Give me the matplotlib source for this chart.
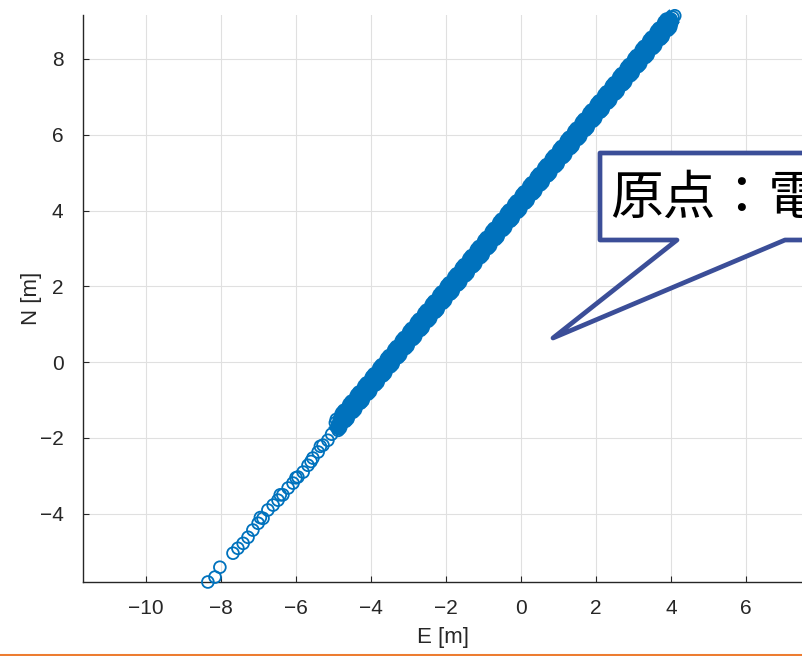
#!/usr/bin/env python3
import matplotlib
matplotlib.use('Agg')
import matplotlib.pyplot as plt
from matplotlib.patches import Polygon
from matplotlib.lines import Line2D

# sparse circles at the lower-left end
e_sparse = [-8.35, -8.16, -8.03, -7.68, -7.55, -7.41, -7.28, -7.15, -7.01, -6.95,
            -6.88, -6.75, -6.61, -6.48, -6.42, -6.35, -6.21, -6.08, -6.00, -5.95,
            -5.81, -5.68, -5.60, -5.55, -5.41, -5.35, -5.28, -5.15, -5.05]
n_sparse = [-5.80, -5.67, -5.41, -5.04, -4.91, -4.78, -4.62, -4.43, -4.25, -4.10,
            -4.12, -3.90, -3.77, -3.64, -3.50, -3.50, -3.32, -3.19, -3.05, -3.03,
            -2.90, -2.72, -2.62, -2.53, -2.37, -2.22, -2.19, -2.06, -1.90]

# dense part of the track, first pass of points
e_dense_a = [
    -4.95, -4.90, -4.85, -4.80, -4.75, -4.70, -4.65, -4.60, -4.55, -4.50, -4.45, -4.40,
    -4.35, -4.30, -4.25, -4.20, -4.15, -4.10, -4.05, -4.00, -3.95, -3.90, -3.85, -3.80,
    -3.75, -3.70, -3.65, -3.60, -3.55, -3.50, -3.45, -3.40, -3.35, -3.30, -3.25, -3.20,
    -3.15, -3.10, -3.05, -3.00, -2.95, -2.90, -2.85, -2.80, -2.75, -2.70, -2.65, -2.60,
    -2.55, -2.50, -2.45, -2.40, -2.35, -2.30, -2.25, -2.20, -2.15, -2.10, -2.05, -2.00,
    -1.95, -1.90, -1.85, -1.80, -1.75, -1.70, -1.65, -1.60, -1.55, -1.50, -1.45, -1.40,
    -1.35, -1.30, -1.25, -1.20, -1.15, -1.10, -1.05, -1.00, -0.95, -0.90, -0.85, -0.80,
    -0.75, -0.70, -0.65, -0.60, -0.55, -0.50, -0.45, -0.40, -0.35, -0.30, -0.25, -0.20,
    -0.15, -0.10, -0.05, 0.00, 0.05, 0.10, 0.15, 0.20, 0.25, 0.30, 0.35, 0.40,
    0.45, 0.50, 0.55, 0.60, 0.65, 0.70, 0.75, 0.80, 0.85, 0.90, 0.95, 1.00,
    1.05, 1.10, 1.15, 1.20, 1.25, 1.30, 1.35, 1.40, 1.45, 1.50, 1.55, 1.60,
    1.65, 1.70, 1.75, 1.80, 1.85, 1.90, 1.95, 2.00, 2.05, 2.10, 2.15, 2.20,
    2.25, 2.30, 2.35, 2.40, 2.45, 2.50, 2.55, 2.60, 2.65, 2.70, 2.75, 2.80,
    2.85, 2.90, 2.95, 3.00, 3.05, 3.10, 3.15, 3.20, 3.25, 3.30, 3.35, 3.40,
    3.45, 3.50, 3.55, 3.60, 3.65, 3.70, 3.75, 3.80, 3.85, 3.90, 3.95, 4.00,
    4.05, 4.10]
n_dense_a = [
    -1.60, -1.68, -1.72, -1.51, -1.36, -1.44, -1.48, -1.27, -1.12, -1.20, -1.24, -1.03,
    -0.88, -0.96, -1.00, -0.79, -0.64, -0.72, -0.76, -0.55, -0.40, -0.48, -0.52, -0.31,
    -0.16, -0.24, -0.28, -0.07, 0.08, 0.00, -0.04, 0.17, 0.32, 0.24, 0.20, 0.41,
    0.56, 0.48, 0.44, 0.65, 0.80, 0.72, 0.68, 0.89, 1.04, 0.96, 0.92, 1.13,
    1.28, 1.20, 1.16, 1.37, 1.52, 1.44, 1.40, 1.61, 1.76, 1.68, 1.64, 1.85,
    2.00, 1.92, 1.88, 2.09, 2.24, 2.16, 2.12, 2.33, 2.48, 2.40, 2.36, 2.57,
    2.72, 2.64, 2.60, 2.81, 2.96, 2.88, 2.84, 3.05, 3.20, 3.12, 3.08, 3.29,
    3.44, 3.36, 3.32, 3.53, 3.68, 3.60, 3.56, 3.77, 3.92, 3.84, 3.80, 4.01,
    4.16, 4.08, 4.04, 4.25, 4.40, 4.32, 4.28, 4.49, 4.64, 4.56, 4.52, 4.73,
    4.88, 4.80, 4.76, 4.97, 5.12, 5.04, 5.00, 5.21, 5.36, 5.28, 5.24, 5.45,
    5.60, 5.52, 5.48, 5.69, 5.84, 5.76, 5.72, 5.93, 6.08, 6.00, 5.96, 6.17,
    6.32, 6.24, 6.20, 6.41, 6.56, 6.48, 6.44, 6.65, 6.80, 6.72, 6.68, 6.89,
    7.04, 6.96, 6.92, 7.13, 7.28, 7.20, 7.16, 7.37, 7.52, 7.44, 7.40, 7.61,
    7.76, 7.68, 7.64, 7.85, 8.00, 7.92, 7.88, 8.09, 8.24, 8.16, 8.12, 8.33,
    8.48, 8.40, 8.36, 8.57, 8.72, 8.64, 8.60, 8.81, 8.96, 8.88, 8.84, 9.05,
    9.10, 9.14]

# dense part, second pass (between the first ones, wider spread)
e_dense_b = [
    -4.925, -4.875, -4.825, -4.775, -4.725, -4.675, -4.625, -4.575,
    -4.525, -4.475, -4.425, -4.375, -4.325, -4.275, -4.225, -4.175,
    -4.125, -4.075, -4.025, -3.975, -3.925, -3.875, -3.825, -3.775,
    -3.725, -3.675, -3.625, -3.575, -3.525, -3.475, -3.425, -3.375,
    -3.325, -3.275, -3.225, -3.175, -3.125, -3.075, -3.025, -2.975,
    -2.925, -2.875, -2.825, -2.775, -2.725, -2.675, -2.625, -2.575,
    -2.525, -2.475, -2.425, -2.375, -2.325, -2.275, -2.225, -2.175,
    -2.125, -2.075, -2.025, -1.975, -1.925, -1.875, -1.825, -1.775,
    -1.725, -1.675, -1.625, -1.575, -1.525, -1.475, -1.425, -1.375,
    -1.325, -1.275, -1.225, -1.175, -1.125, -1.075, -1.025, -0.975,
    -0.925, -0.875, -0.825, -0.775, -0.725, -0.675, -0.625, -0.575,
    -0.525, -0.475, -0.425, -0.375, -0.325, -0.275, -0.225, -0.175,
    -0.125, -0.075, -0.025, 0.025, 0.075, 0.125, 0.175, 0.225,
    0.275, 0.325, 0.375, 0.425, 0.475, 0.525, 0.575, 0.625,
    0.675, 0.725, 0.775, 0.825, 0.875, 0.925, 0.975, 1.025,
    1.075, 1.125, 1.175, 1.225, 1.275, 1.325, 1.375, 1.425,
    1.475, 1.525, 1.575, 1.625, 1.675, 1.725, 1.775, 1.825,
    1.875, 1.925, 1.975, 2.025, 2.075, 2.125, 2.175, 2.225,
    2.275, 2.325, 2.375, 2.425, 2.475, 2.525, 2.575, 2.625,
    2.675, 2.725, 2.775, 2.825, 2.875, 2.925, 2.975, 3.025,
    3.075, 3.125, 3.175, 3.225, 3.275, 3.325, 3.375, 3.425,
    3.475, 3.525, 3.575, 3.625, 3.675, 3.725, 3.775, 3.825,
    3.875, 3.925, 3.975, 4.025]
n_dense_b = [
    -1.51, -1.80, -1.51, -1.58, -1.27, -1.56, -1.27, -1.34,
    -1.03, -1.32, -1.03, -1.10, -0.79, -1.08, -0.79, -0.86,
    -0.55, -0.84, -0.55, -0.62, -0.31, -0.60, -0.31, -0.38,
    -0.07, -0.36, -0.07, -0.14, 0.17, -0.12, 0.17, 0.10,
    0.41, 0.12, 0.41, 0.34, 0.65, 0.36, 0.65, 0.58,
    0.89, 0.60, 0.89, 0.82, 1.13, 0.84, 1.13, 1.06,
    1.37, 1.08, 1.37, 1.30, 1.61, 1.32, 1.61, 1.54,
    1.85, 1.56, 1.85, 1.78, 2.09, 1.80, 2.09, 2.02,
    2.33, 2.04, 2.33, 2.26, 2.57, 2.28, 2.57, 2.50,
    2.81, 2.52, 2.81, 2.74, 3.05, 2.76, 3.05, 2.98,
    3.29, 3.00, 3.29, 3.22, 3.53, 3.24, 3.53, 3.46,
    3.77, 3.48, 3.77, 3.70, 4.01, 3.72, 4.01, 3.94,
    4.25, 3.96, 4.25, 4.18, 4.49, 4.20, 4.49, 4.42,
    4.73, 4.44, 4.73, 4.66, 4.97, 4.68, 4.97, 4.90,
    5.21, 4.92, 5.21, 5.14, 5.45, 5.16, 5.45, 5.38,
    5.69, 5.40, 5.69, 5.62, 5.93, 5.64, 5.93, 5.86,
    6.17, 5.88, 6.17, 6.10, 6.41, 6.12, 6.41, 6.34,
    6.65, 6.36, 6.65, 6.58, 6.89, 6.60, 6.89, 6.82,
    7.13, 6.84, 7.13, 7.06, 7.37, 7.08, 7.37, 7.30,
    7.61, 7.32, 7.61, 7.54, 7.85, 7.56, 7.85, 7.78,
    8.09, 7.80, 8.09, 8.02, 8.33, 8.04, 8.33, 8.26,
    8.57, 8.28, 8.57, 8.50, 8.81, 8.52, 8.81, 8.74,
    9.05, 8.76, 9.05, 8.98]

xticks = [-10, -8, -6, -4, -2, 0, 2, 4, 6]
yticks = [-4, -2, 0, 2, 4, 6, 8]
callout_text = '原点：電波源'

plt.rcParams['font.family'] = ['Liberation Sans Narrow', 'Liberation Sans', 'DejaVu Sans']
plt.rcParams['axes.unicode_minus'] = True

W, H = 802, 656
fig = plt.figure(figsize=(W / 100, H / 100), dpi=100)

# axes box in pixels: left 83, right ~803, top 15, bottom 582
ax = fig.add_axes([83 / W, (H - 582) / H, (803 - 83) / W, (582 - 15) / H])
ax.set_xlim(-11.68, 7.52)
ax.set_ylim(-5.80, 9.16)

blue = '#0072BD'
# the dense stretch is so overlapped that it reads as a solid band
ax.plot(e_dense_a, n_dense_a, color=blue, linewidth=12, solid_joinstyle='round',
        solid_capstyle='butt', clip_on=False, zorder=2)
e_all = e_sparse + e_dense_a + e_dense_b
n_all = n_sparse + n_dense_a + n_dense_b
ax.scatter(e_all, n_all, s=72, facecolors='none', edgecolors=blue,
           linewidths=1.3, clip_on=False, zorder=3)

ax.set_xticks(xticks)
ax.set_yticks(yticks)
ax.grid(True, color='#e0e0e0', linewidth=0.8)
ax.set_axisbelow(True)
for s in ['top', 'right']:
    ax.spines[s].set_visible(False)
for s in ['left', 'bottom']:
    ax.spines[s].set_color('#262626')
    ax.spines[s].set_linewidth(1.0)
ax.tick_params(direction='in', length=4, width=0.8, colors='#262626', labelsize=15)
ax.tick_params(axis='x', pad=12)
ax.tick_params(axis='y', pad=14)
ax.set_xlabel('E [m]', fontsize=16, color='#262626', labelpad=7)
ax.set_ylabel('N [m]', fontsize=16, color='#262626', labelpad=-2)

# speech-bubble callout (pixel coords -> figure fraction)
pts_px = [(600, 153), (840, 153), (840, 240), (785, 240), (553, 338),
          (677, 240), (600, 240)]
pts = [(x / W, 1 - y / H) for x, y in pts_px]
bubble = Polygon(pts, closed=True, transform=fig.transFigure, facecolor='white',
                 edgecolor='#3B4E98', linewidth=3.4, joinstyle='round', zorder=10)
fig.add_artist(bubble)
fig.text(610 / W, 1 - 198 / H, callout_text, fontsize=38, color='black',
         family=['Noto Sans CJK JP', 'DejaVu Sans'], va='center', ha='left', zorder=11)

# orange rule at the very bottom
fig.add_artist(Line2D([0, 1], [1.5 / H, 1.5 / H], transform=fig.transFigure,
                      color='#ED7D31', linewidth=2.2))

fig.savefig('out.png', dpi=100)
